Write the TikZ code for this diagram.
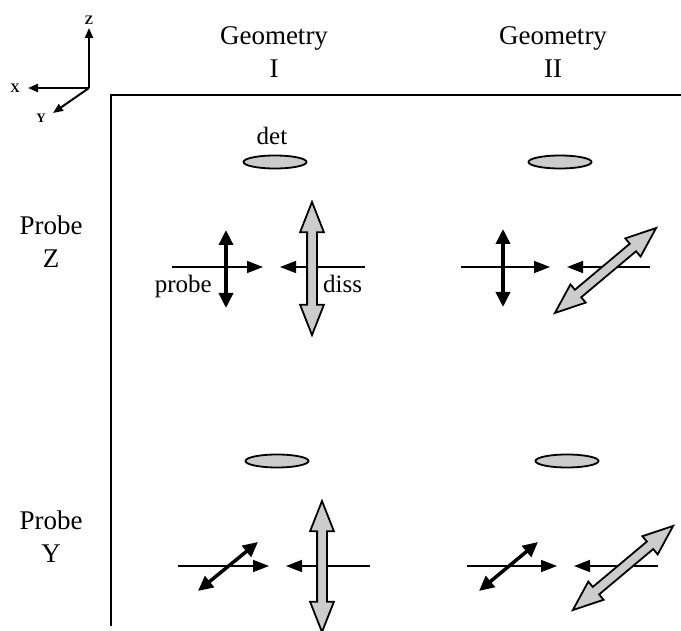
\documentclass[tikz,border=0pt]{standalone}
\usepackage{fontspec}
\setmainfont{Liberation Serif}
\usetikzlibrary{arrows.meta,shapes.geometric,shapes.arrows}

\begin{document}
\begin{tikzpicture}[x=1pt,y=-1pt,
 head/.style={font=\fontsize{27}{33}\selectfont, align=center, anchor=base, inner sep=0pt},
 lbl/.style={font=\fontsize{25}{29}\selectfont, anchor=base, inner sep=0pt},
 axlbl/.style={font=\bfseries\fontsize{13}{15}\selectfont, inner sep=0pt},
 axis/.style={line width=2pt, -{Triangle[length=10pt,width=8pt]}},
 beam/.style={line width=1.6pt, -{Triangle[length=16pt,width=12pt]}},
 pol/.style={line width=3.5pt, {Triangle[length=15pt,width=14pt]}-{Triangle[length=15pt,width=14pt]}},
 detector/.style={ellipse, draw, line width=1.8pt, fill=gray!40, minimum width=63pt, minimum height=13pt, inner sep=0pt},
 fragpol/.style={double arrow, draw, line width=1.8pt, fill=gray!40, inner sep=0pt, inner ysep=4pt, double arrow head extend=7pt, double arrow tip angle=43}]
\useasboundingbox (0,0) rectangle (681,631);
% axes
\coordinate (o) at (89,88);\coordinate (ztip) at (89,28);\coordinate (xtip) at (28,88);\coordinate (ytip) at (53,113);
\draw[axis] (o) -- (ztip);\draw[axis] (o) -- (xtip);\draw[axis] (o) -- (ytip);
\node[axlbl] (zlab) at (89,20) {Z};\node[axlbl] (xlab) at (15,88) {X};\node[axlbl] (ylab) at (41,118) {Y};
% frame
\coordinate (corner) at (111,95);
\draw[line width=2pt] (111,626) -- (corner) -- (681,95);
% headings
\node[head] (geoI) at (274,78) {Geometry\\I};\node[head] (geoII) at (553,78) {Geometry\\II};
\node[head] (probeZ) at (51,268) {Probe\\Z};\node[head] (probeY) at (51,562) {Probe\\Y};
% Geometry I, probe Z
\node[detector] (detIZ) at (275,162) {};\node[lbl] (detlab) at (272,145) {det};
\coordinate (pIZa) at (172,267);\coordinate (pIZb) at (263,267);\draw[beam] (pIZa) -- (pIZb);
\coordinate (dIZa) at (365,267);\coordinate (dIZb) at (280,267);\draw[beam] (dIZa) -- (dIZb);
\coordinate (eIZa) at (226,230);\coordinate (eIZb) at (226,308);\draw[pol] (eIZa) -- (eIZb);
\node[fragpol, rotate=90, minimum height=133pt] (fIZ) at (312,268.5) {};
\node[lbl, anchor=base east] (probelab) at (212,293) {probe};\node[lbl, anchor=base west] (disslab) at (323,293) {diss};
% Geometry II, probe Z
\node[detector] (detIIZ) at (560,162) {};
\coordinate (pIIZa) at (461,267);\coordinate (pIIZb) at (550,267);\draw[beam] (pIIZa) -- (pIIZb);
\coordinate (dIIZa) at (650,267);\coordinate (dIIZb) at (567,267);\draw[beam] (dIIZa) -- (dIIZb);
\coordinate (eIIZa) at (503,229);\coordinate (eIIZb) at (503,307);\draw[pol] (eIIZa) -- (eIIZb);
\node[fragpol, rotate=40, minimum height=132pt] (fIIZ) at (605.5,270.5) {};
% Geometry I, probe Y
\node[detector] (detIY) at (277,461) {};
\coordinate (pIYa) at (178,566);\coordinate (pIYb) at (269,566);\draw[beam] (pIYa) -- (pIYb);
\coordinate (dIYa) at (370,566);\coordinate (dIYb) at (286,566);\draw[beam] (dIYa) -- (dIYb);
\coordinate (eIYa) at (198,591);\coordinate (eIYb) at (258,542);\draw[pol] (eIYa) -- (eIYb);
\node[fragpol, rotate=90, minimum height=131pt] (fIY) at (322,566.5) {};
% Geometry II, probe Y
\node[detector] (detIIY) at (567,461) {};
\coordinate (pIIYa) at (467,566);\coordinate (pIIYb) at (557,566);\draw[beam] (pIIYa) -- (pIIYb);
\coordinate (dIIYa) at (658,566);\coordinate (dIIYb) at (574,566);\draw[beam] (dIIYa) -- (dIIYb);
\coordinate (eIIYa) at (479,591);\coordinate (eIIYb) at (538,542);\draw[pol] (eIIYa) -- (eIIYb);
\node[fragpol, rotate=40, minimum height=131pt] (fIIY) at (623,568) {};
\end{tikzpicture}
\end{document}
